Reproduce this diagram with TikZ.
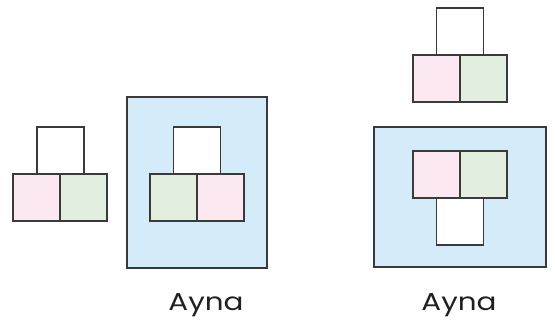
\documentclass[tikz,border=0pt]{standalone}
\usepackage{fontspec}
\setmainfont{Poppins}
\newfontfamily\labfont[FakeStretch=1.2]{Poppins}
\definecolor{lblue}{HTML}{D4ECF9}
\definecolor{lpink}{HTML}{FCE8F1}
\definecolor{lgreen}{HTML}{E3EFDE}
\definecolor{edge}{HTML}{3A3A3A}
\begin{document}
\begin{tikzpicture}[x=1pt,y=-1pt,
  sq/.style={draw=edge, line width=1.3pt, minimum width=47pt, minimum height=47pt, inner sep=0pt, outer sep=0pt},
  mirror/.style={draw=edge, line width=1.3pt, fill=lblue, inner sep=0pt, outer sep=0pt},
  lab/.style={font=\labfont\fontsize{24.5}{27}\selectfont, text=black!88, inner sep=0pt, anchor=base}]
\useasboundingbox (0,0) rectangle (555,324);
% left object
\node[sq, fill=white] (lt) at (60.5,150.5) {};
\node[sq, fill=lpink] (lp) at (36.5,197.5) {};
\node[sq, fill=lgreen] (lg) at (83.5,197.5) {};
% middle mirror
\node[mirror, minimum width=140pt, minimum height=171pt] (m1) at (197,182.5) {};
\node[sq, fill=white] (mt) at (197,150.5) {};
\node[sq, fill=lgreen] (mg) at (173.5,197.5) {};
\node[sq, fill=lpink] (mp) at (220.5,197.5) {};
% right object
\node[sq, fill=white] (rt) at (460,31.5) {};
\node[sq, fill=lpink] (rp) at (436.5,78.5) {};
\node[sq, fill=lgreen] (rg) at (483.5,78.5) {};
% right mirror
\node[mirror, minimum width=172pt, minimum height=140pt] (m2) at (460,197) {};
\node[sq, fill=lpink] (rmp) at (436.5,174.5) {};
\node[sq, fill=lgreen] (rmg) at (483.5,174.5) {};
\node[sq, fill=white] (rmt) at (460,221.5) {};
% labels
\node[lab] (l1) at (206,310) {Ayna};
\node[lab] (l2) at (459,310) {Ayna};
\end{tikzpicture}
\end{document}
